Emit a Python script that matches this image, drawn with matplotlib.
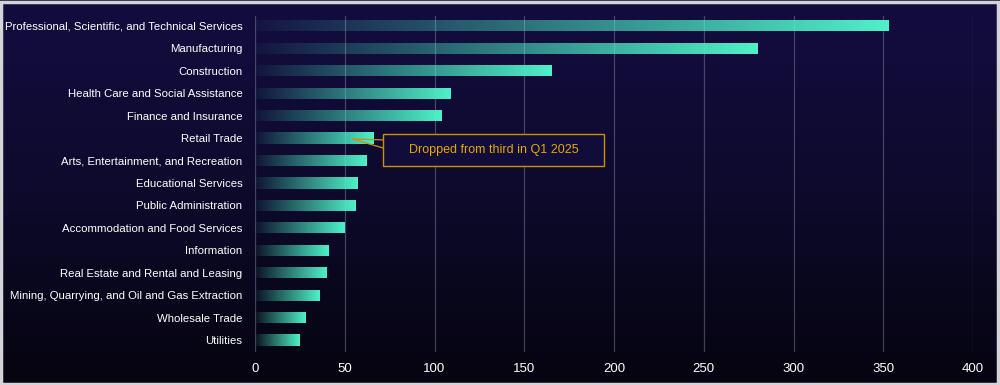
import matplotlib.pyplot as plt
import numpy as np
from matplotlib.colors import LinearSegmentedColormap
from matplotlib.patches import Rectangle

plt.rcParams['font.family'] = ['Liberation Sans', 'DejaVu Sans']

industries = [
    "Professional, Scientific, and Technical Services",
    "Manufacturing",
    "Construction",
    "Health Care and Social Assistance",
    "Finance and Insurance",
    "Retail Trade",
    "Arts, Entertainment, and Recreation",
    "Educational Services",
    "Public Administration",
    "Accommodation and Food Services",
    "Information",
    "Real Estate and Rental and Leasing",
    "Mining, Quarrying, and Oil and Gas Extraction",
    "Wholesale Trade",
    "Utilities",
]
counts = [353, 280, 165, 109, 104, 66, 62, 57, 56, 50, 41, 40, 36, 28, 25]
x_ticks = [0, 50, 100, 150, 200, 250, 300, 350, 400]
note_text = "Dropped from third in Q1 2025"
note_industry = "Retail Trade"

fig = plt.figure(figsize=(10, 3.85), dpi=100)

# background gradient, navy at top fading to black
bg = fig.add_axes([0, 0, 1, 1])
bg.set_axis_off()
bg_cmap = LinearSegmentedColormap.from_list("bg", ["#05040f", "#0d0a2c", "#130d40"])
bg.imshow(np.linspace(0, 1, 256).reshape(-1, 1), aspect="auto", cmap=bg_cmap,
          origin="lower", extent=[0, 1, 0, 1])
bg.set_xlim(0, 1)
bg.set_ylim(0, 1)
fig.patches.append(Rectangle((0.001, 0.002), 0.997, 0.994, transform=fig.transFigure,
                             fill=False, edgecolor="#d4d4d8", linewidth=2.5))

ax = fig.add_axes([0.255, 0.086, 0.718, 0.873])
ax.patch.set_alpha(0)

teal = np.array([0.31, 0.95, 0.79])
ramp = np.zeros((1, 256, 4))
ramp[0, :, :3] = teal
ramp[0, :, 3] = np.linspace(0.04, 1.0, 256)

ypos = np.arange(len(industries))
bars = ax.barh(ypos, counts, height=0.5, facecolor="none", edgecolor="none", zorder=3)
for bar in bars:
    x0, y0 = bar.get_x(), bar.get_y()
    w, h = bar.get_width(), bar.get_height()
    im = ax.imshow(ramp, aspect="auto", extent=[x0, x0 + w, y0 + h, y0],
                   zorder=3, interpolation="bilinear")
    im.set_clip_path(bar)

ax.set_xlim(0, 400)
ax.set_ylim(len(industries) - 1 + 0.53, -0.45)
ax.set_xticks(x_ticks)
ax.set_yticks(ypos)
ax.set_yticklabels(industries)
ax.tick_params(axis="y", length=0, pad=9, labelsize=8.2, labelcolor="white")
ax.tick_params(axis="x", length=0, pad=8, labelsize=9.5, labelcolor="white")
for s in ax.spines.values():
    s.set_visible(False)
ax.grid(axis="x", color="#8a8aa8", alpha=0.45, linewidth=0.9, zorder=1)
ax.set_axisbelow(True)

# callout box with a wedge pointing at the bar
yi = industries.index(note_industry)
gold = "#c8920a"
box_x0, box_x1 = 71.3, 194.4
box_y0, box_y1 = yi - 0.18, yi + 1.24
ax.add_patch(Rectangle((box_x0, box_y0), box_x1 - box_x0, box_y1 - box_y0,
                       facecolor="#110c3a", edgecolor=gold, linewidth=1, zorder=5))
ax.text((box_x0 + box_x1) / 2, (box_y0 + box_y1) / 2, note_text, color="#e6a800",
        fontsize=9, ha="center", va="center", zorder=6)
ax.plot([box_x0, 54, box_x0], [yi + 0.08, yi + 0.04, yi + 0.44],
        color=gold, linewidth=0.9, zorder=6, solid_joinstyle="miter")

fig.savefig("out.png", dpi=100)
